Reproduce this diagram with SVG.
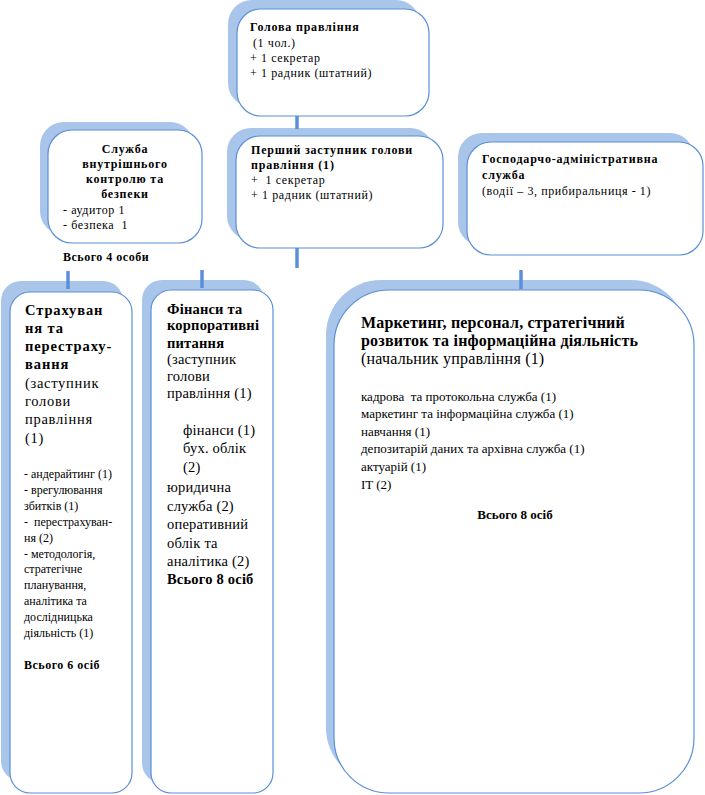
<svg xmlns="http://www.w3.org/2000/svg" width="705" height="795" viewBox="0 0 705 795">
<style>
.sh{fill:#a9c5ea}
.bx{fill:#ffffff;stroke:#5b8fd9;stroke-width:1.2}
.cn{stroke:#5b8fd9;stroke-width:3.5;fill:none}
text{font-family:"Liberation Serif","Times New Roman",serif;fill:#000}
.t12{font-size:12px;letter-spacing:0.6px}
.b12{font-size:12px;font-weight:bold;letter-spacing:0.8px}
.s12{font-size:12px}
.sb12{font-size:12px;font-weight:bold;letter-spacing:0.5px}
.e14{font-size:14.5px;letter-spacing:0.7px}
.eb14{font-size:14.5px;font-weight:bold;letter-spacing:0.9px}
.f14{font-size:14.5px;letter-spacing:0.2px}
.fb14{font-size:14.5px;font-weight:bold;letter-spacing:0.2px}
.g16{font-size:16px;letter-spacing:0.2px}
.gb16{font-size:16px;font-weight:bold;letter-spacing:0.2px}
.g13{font-size:13px}
.gb13{font-size:13px;font-weight:bold}
</style>
<rect width="705" height="795" fill="#ffffff"/>

<g id="node-head">
<rect class="sh" x="228" y="0" width="192" height="107" rx="24"/>
<rect class="bx" x="237" y="9" width="192" height="107" rx="24"/>
<text class="b12" x="250" y="31">Голова правління</text>
<text class="t12" x="253" y="47">(1 чол.)</text>
<text class="t12" x="250" y="62">+ 1 секретар</text>
<text class="t12" x="250" y="77">+ 1 радник (штатний)</text>
</g>

<g id="node-first-deputy">
<rect class="sh" x="227" y="128" width="207" height="112" rx="24"/>
<rect class="bx" x="236" y="136" width="207" height="112" rx="24"/>
<text class="b12" x="251" y="154">Перший заступник голови</text>
<text class="b12" x="251" y="169">правління (1)</text>
<text class="t12" x="251" y="184" xml:space="preserve">+  1 секретар</text>
<text class="t12" x="251" y="199">+ 1 радник (штатний)</text>
</g>

<g id="node-control">
<rect class="sh" x="40" y="122" width="154" height="113" rx="24"/>
<rect class="bx" x="48" y="130" width="154" height="113" rx="24"/>
<text class="b12" x="125" y="153" text-anchor="middle">Служба</text>
<text class="b12" x="125" y="168" text-anchor="middle">внутрішнього</text>
<text class="b12" x="125" y="183" text-anchor="middle">контролю та</text>
<text class="b12" x="125" y="198" text-anchor="middle">безпеки</text>
<text class="t12" x="63" y="214">- аудитор 1</text>
<text class="t12" x="63" y="229" xml:space="preserve">- безпека  1</text>
<text class="sb12" x="63" y="261">Всього 4 особи</text>
</g>

<g id="node-admin">
<rect class="sh" x="458" y="133" width="236" height="113" rx="24"/>
<rect class="bx" x="467" y="142" width="236" height="113" rx="24"/>
<text class="b12" x="482" y="163">Господарчо-адміністративна</text>
<text class="b12" x="482" y="179">служба</text>
<text class="t12" x="482" y="195">(водії – 3, прибиральниця - 1)</text>
</g>

<g id="node-insurance">
<rect class="sh" x="1" y="281" width="122" height="500" rx="20"/>
<rect class="bx" x="10" y="292" width="122" height="501" rx="20"/>
<text class="eb14" x="25" y="315">Страхуван</text>
<text class="eb14" x="25" y="333">ня та</text>
<text class="eb14" x="25" y="351">перестраху-</text>
<text class="eb14" x="25" y="369">вання</text>
<text class="e14" x="25" y="388">(заступник</text>
<text class="e14" x="25" y="406">голови</text>
<text class="e14" x="25" y="424">правління</text>
<text class="e14" x="25" y="443">(1)</text>
<text class="s12" x="24" y="478">- андерайтинг (1)</text>
<text class="s12" x="24" y="494">- врегулювання</text>
<text class="s12" x="24" y="510">збитків (1)</text>
<text class="s12" x="24" y="526" xml:space="preserve">-  перестрахуван-</text>
<text class="s12" x="24" y="542">ня (2)</text>
<text class="s12" x="24" y="558">- методологія,</text>
<text class="s12" x="24" y="573">стратегічне</text>
<text class="s12" x="24" y="589">планування,</text>
<text class="s12" x="24" y="605">аналітика та</text>
<text class="s12" x="24" y="621">дослідницька</text>
<text class="s12" x="24" y="637">діяльність (1)</text>
<text class="sb12" x="24" y="669">Всього 6 осіб</text>
</g>

<g id="node-finance">
<rect class="sh" x="142" y="280" width="122" height="503" rx="20"/>
<rect class="bx" x="151" y="290" width="122" height="503" rx="20"/>
<text class="fb14" x="167" y="314">Фінанси та</text>
<text class="fb14" x="167" y="330">корпоративні</text>
<text class="fb14" x="167" y="348">питання</text>
<text class="f14" x="167" y="364">(заступник</text>
<text class="f14" x="167" y="381">голови</text>
<text class="f14" x="167" y="398">правління (1)</text>
<text class="f14" x="183" y="435">фінанси (1)</text>
<text class="f14" x="183" y="453">бух. облік</text>
<text class="f14" x="183" y="472">(2)</text>
<text class="f14" x="167" y="492">юридична</text>
<text class="f14" x="167" y="511">служба (2)</text>
<text class="f14" x="167" y="529">оперативний</text>
<text class="f14" x="167" y="548">облік та</text>
<text class="f14" x="167" y="566">аналітика (2)</text>
<text class="fb14" x="167" y="584">Всього 8 осіб</text>
</g>

<g id="node-marketing">
<rect class="sh" x="326" y="280" width="360" height="503" rx="55"/>
<rect class="bx" x="334" y="290" width="360" height="503" rx="55"/>
<text class="gb16" x="361" y="328">Маркетинг, персонал, стратегічний</text>
<text class="gb16" x="361" y="346">розвиток та інформаційна діяльність</text>
<text class="g16" x="361" y="364">(начальник управління (1)</text>
<text class="g13" x="361" y="401" xml:space="preserve">кадрова  та протокольна служба (1)</text>
<text class="g13" x="361" y="418">маркетинг та інформаційна служба (1)</text>
<text class="g13" x="361" y="436">навчання (1)</text>
<text class="g13" x="361" y="453">депозитарій даних та архівна служба (1)</text>
<text class="g13" x="361" y="471">актуарій (1)</text>
<text class="g13" x="361" y="489">IT (2)</text>
<text class="gb13" x="515" y="519" text-anchor="middle">Всього 8 осіб</text>
</g>

<g id="connectors">
<line class="cn" x1="297" y1="116" x2="297" y2="129"/>
<line class="cn" x1="297" y1="248" x2="297" y2="268"/>
<line class="cn" x1="68" y1="271" x2="68" y2="289"/>
<line class="cn" x1="202" y1="270" x2="202" y2="288"/>
<line class="cn" x1="521" y1="270" x2="521" y2="289"/>
</g>
</svg>
